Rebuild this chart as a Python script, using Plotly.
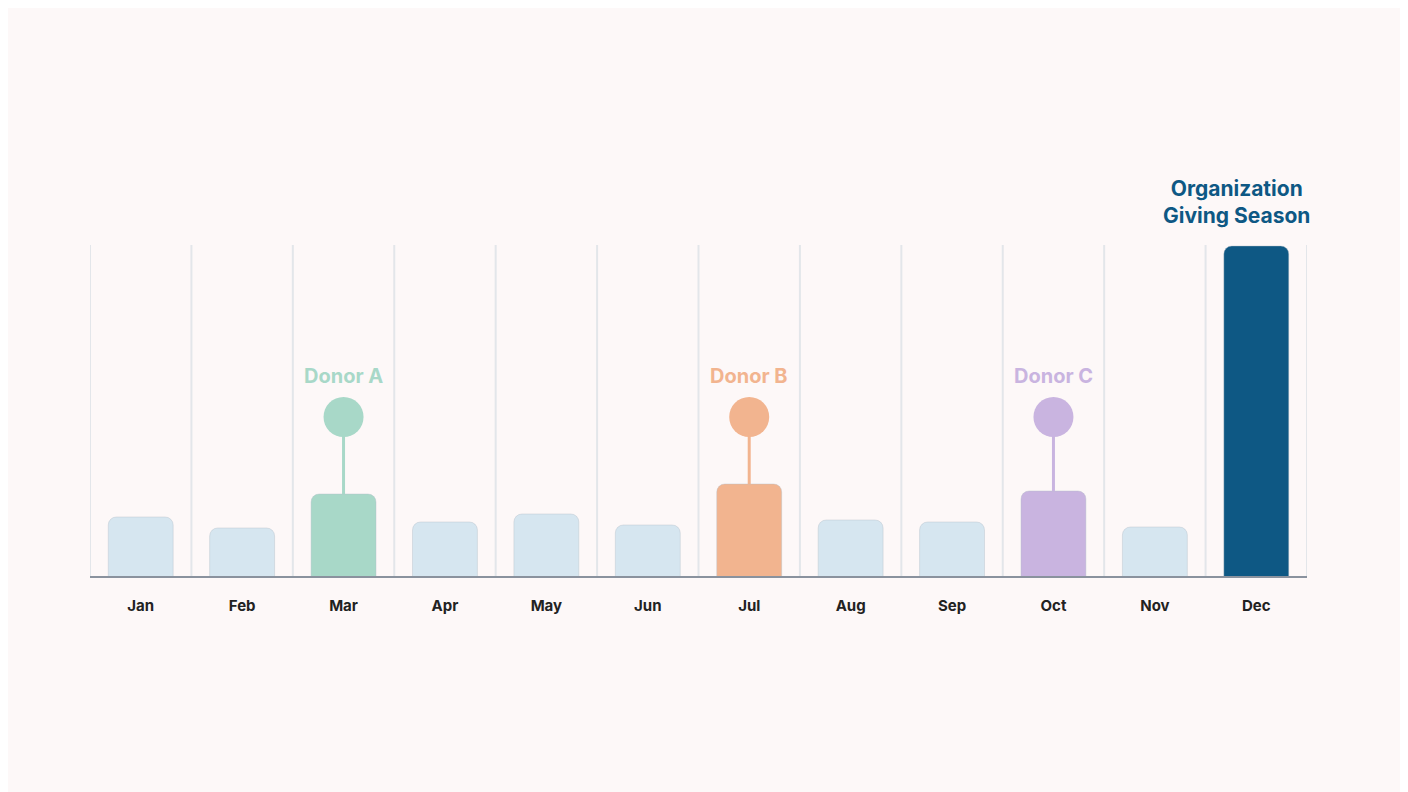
import plotly.graph_objects as go

months = ["Jan", "Feb", "Mar", "Apr", "May", "Jun", "Jul", "Aug", "Sep", "Oct", "Nov", "Dec"]
giving = [61, 50, 84, 56, 64, 53, 94, 58, 56, 87, 51, 332]
bar_colors = ["#d6e6f0", "#d6e6f0", "#a8d8c8", "#d6e6f0", "#d6e6f0", "#d6e6f0",
              "#f2b48f", "#d6e6f0", "#d6e6f0", "#c9b4e0", "#d6e6f0", "#0e5884"]

donor_months = ["Mar", "Jul", "Oct"]
donor_names = ["Donor A", "Donor B", "Donor C"]
donor_colors = ["#a8d8c8", "#f2b48f", "#c9b4e0"]
pin_height = 161
label_height = 202

fig = go.Figure()
fig.add_trace(go.Bar(
    x=months, y=giving, marker=dict(color=bar_colors, cornerradius=8,
                                    line=dict(color="rgba(180,190,200,0.4)", width=1)),
    width=0.64, hoverinfo="x+y",
))

for m, name, col in zip(donor_months, donor_names, donor_colors):
    top = giving[months.index(m)]
    fig.add_trace(go.Scatter(x=[m, m], y=[top, pin_height], mode="lines",
                             line=dict(color=col, width=3), hoverinfo="skip"))
    fig.add_trace(go.Scatter(x=[m], y=[pin_height], mode="markers",
                             marker=dict(color=col, size=40), hoverinfo="skip"))
    fig.add_annotation(x=m, y=label_height, text=f"<b>{name}</b>", showarrow=False,
                       font=dict(size=20, color=col, family="Inter"))

fig.add_annotation(x="Dec", y=332, text="<b>Organization<br>Giving Season</b>",
                   showarrow=False, yanchor="bottom", yshift=16, xshift=-20,
                   font=dict(size=21, color="#0e5884", family="Inter"))

# vertical separators between months
for i in range(len(months) + 1):
    fig.add_shape(type="line", x0=i - 0.5, x1=i - 0.5, y0=0, y1=1, xref="x", yref="paper",
                  line=dict(color="#e3e6ea", width=2), layer="below")
fig.add_shape(type="line", x0=-0.5, x1=11.5, y0=0, y1=0, xref="x", yref="y",
              line=dict(color="#8a929e", width=4))

fig.update_layout(
    width=1408, height=792, showlegend=False,
    paper_bgcolor="#fdf8f8", plot_bgcolor="#fdf8f8",
    margin=dict(l=82, r=109, t=237, b=222),
    font=dict(family="Inter"),
    xaxis=dict(range=[-0.5, 11.5], showgrid=False, tickfont=dict(size=15, color="#222"),
               ticktext=[f"<b>{m}</b>" for m in months], tickvals=months, ticklen=14,
               ticks="outside", tickcolor="rgba(0,0,0,0)"),
    yaxis=dict(range=[0, 333], visible=False),
)
fig.write_html("out.html")
